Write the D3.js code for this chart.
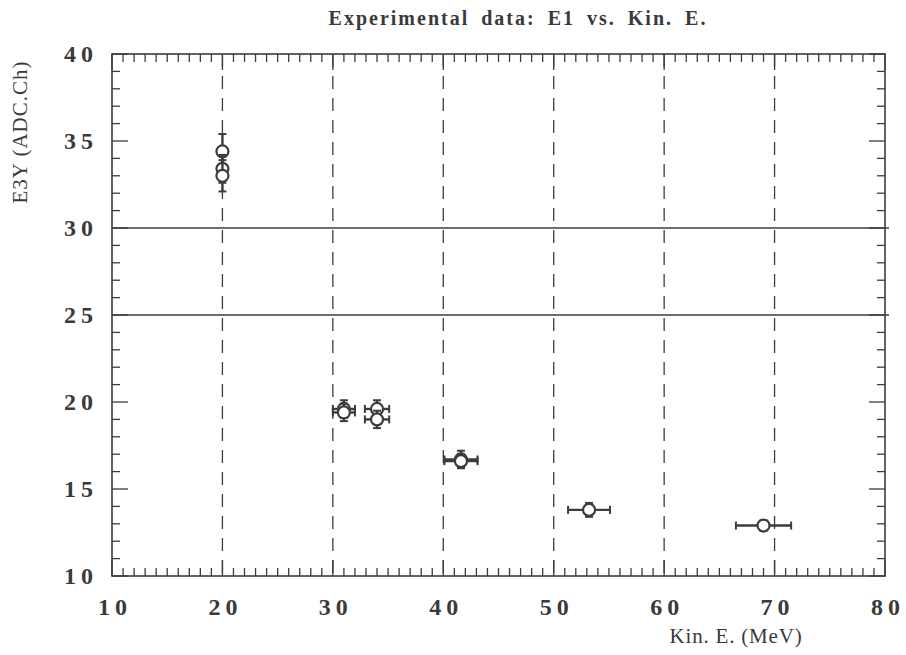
<!DOCTYPE html>
<html>
<head>
<meta charset="utf-8">
<script src="https://cdn.jsdelivr.net/npm/d3@7"></script>
<style>
  body { margin: 0; background: #fff; }
  text { font-family: "Liberation Serif", "DejaVu Serif", serif; fill: #3a3a3a; }
</style>
</head>
<body>
<svg id="chart" width="906" height="655"></svg>
<script>
// values
var kinE  = [20.0, 20.0, 20.0, 31.0, 31.0, 34.0, 34.0, 41.6, 41.6, 53.2, 69.0];
var e3y   = [34.4, 33.4, 33.0, 19.6, 19.4, 19.6, 19.0, 16.7, 16.6, 13.8, 12.9];
var xErr  = [0.4, 0.4, 0.4, 1.0, 1.0, 1.1, 1.1, 1.5, 1.5, 1.9, 2.5];
var yErr  = [1.0, 0.8, 0.9, 0.5, 0.5, 0.5, 0.5, 0.5, 0.4, 0.4, 0.3];

var xTicks = [10, 20, 30, 40, 50, 60, 70, 80];
var yTicks = [10, 15, 20, 25, 30, 35, 40];
var dashedX = [20, 30, 40, 50, 60, 70];
var solidY = [25, 30];

var ink = '#3c3c3c';
var margin = {top: 54, right: 21, bottom: 79, left: 112};
var width = 906 - margin.left - margin.right;
var height = 655 - margin.top - margin.bottom;

var svg = d3.select('#chart');
var g = svg.append('g')
    .attr('transform', 'translate(' + margin.left + ',' + margin.top + ')');

var x = d3.scaleLinear().domain([10, 80]).range([0, width]);
var y = d3.scaleLinear().domain([10, 40]).range([height, 0]);

// gridlines
g.selectAll('.vgrid')
  .data(dashedX)
  .enter()
  .append('line')
  .attr('x1', d => x(d)).attr('x2', d => x(d))
  .attr('y1', 0).attr('y2', height)
  .attr('stroke', ink)
  .attr('stroke-width', 1.3)
  .attr('stroke-dasharray', '13,9');

g.selectAll('.hgrid')
  .data(solidY)
  .enter()
  .append('line')
  .attr('x1', 0).attr('x2', width + 4)
  .attr('y1', d => y(d)).attr('y2', d => y(d))
  .attr('stroke', ink)
  .attr('stroke-width', 1.4);

// minor / major ticks on all four sides
var xMinor = d3.range(10, 81, 1);
var yMinor = d3.range(10, 41, 1);

function tickLen(v, step) { return (v % step === 0) ? 16 : 8; }

g.selectAll('.xb')
  .data(xMinor)
  .enter()
  .append('line')
  .attr('x1', d => x(d)).attr('x2', d => x(d))
  .attr('y1', height).attr('y2', d => height - tickLen(d, 10))
  .attr('stroke', ink).attr('stroke-width', 1.3);

g.selectAll('.xt')
  .data(xMinor)
  .enter()
  .append('line')
  .attr('x1', d => x(d)).attr('x2', d => x(d))
  .attr('y1', 0).attr('y2', d => tickLen(d, 10))
  .attr('stroke', ink).attr('stroke-width', 1.3);

g.selectAll('.yl')
  .data(yMinor)
  .enter()
  .append('line')
  .attr('x1', 0).attr('x2', d => tickLen(d, 5))
  .attr('y1', d => y(d)).attr('y2', d => y(d))
  .attr('stroke', ink).attr('stroke-width', 1.3);

g.selectAll('.yr')
  .data(yMinor)
  .enter()
  .append('line')
  .attr('x1', width).attr('x2', d => width - tickLen(d, 5))
  .attr('y1', d => y(d)).attr('y2', d => y(d))
  .attr('stroke', ink).attr('stroke-width', 1.3);

// frame
g.append('rect')
  .attr('x', 0).attr('y', 0)
  .attr('width', width).attr('height', height)
  .attr('fill', 'none')
  .attr('stroke', ink)
  .attr('stroke-width', 1.6);

// tick labels
g.selectAll('.xlab')
  .data(xTicks)
  .enter()
  .append('text')
  .attr('x', d => x(d) + 3)
  .attr('y', height + 39)
  .attr('text-anchor', 'middle')
  .attr('font-size', 24)
  .attr('font-weight', 'bold')
  .attr('letter-spacing', 5)
  .text(d => d);

g.selectAll('.ylab')
  .data(yTicks)
  .enter()
  .append('text')
  .attr('x', -14)
  .attr('y', d => y(d) + 8)
  .attr('text-anchor', 'end')
  .attr('font-size', 24)
  .attr('font-weight', 'bold')
  .attr('letter-spacing', 5)
  .text(d => d);

// titles
svg.append('text')
  .attr('x', 518)
  .attr('y', 25)
  .attr('text-anchor', 'middle')
  .attr('font-size', 20)
  .attr('font-weight', 'bold')
  .attr('letter-spacing', 2)
  .attr('word-spacing', 5)
  .text('Experimental data: E1 vs. Kin. E.');

svg.append('text')
  .attr('x', 736)
  .attr('y', 643)
  .attr('text-anchor', 'middle')
  .attr('font-size', 21)
  .attr('letter-spacing', 0.8)
  .text('Kin. E. (MeV)');

svg.append('text')
  .attr('transform', 'translate(27,132) rotate(-90)')
  .attr('text-anchor', 'middle')
  .attr('font-size', 21)
  .attr('letter-spacing', 1)
  .text('E3Y (ADC.Ch)');

// data points with error bars
var pts = kinE.map((k, i) => ({x: k, y: e3y[i], ex: xErr[i], ey: yErr[i]}));
var cap = 4;

var pg = g.selectAll('.pt')
  .data(pts)
  .enter()
  .append('g');

pg.append('line')
  .attr('x1', d => x(d.x - d.ex)).attr('x2', d => x(d.x + d.ex))
  .attr('y1', d => y(d.y)).attr('y2', d => y(d.y))
  .attr('stroke', ink).attr('stroke-width', 2.4);

pg.append('line')
  .attr('x1', d => x(d.x)).attr('x2', d => x(d.x))
  .attr('y1', d => y(d.y - d.ey)).attr('y2', d => y(d.y + d.ey))
  .attr('stroke', ink).attr('stroke-width', 2.4);

// caps
pg.append('line')
  .attr('x1', d => x(d.x - d.ex)).attr('x2', d => x(d.x - d.ex))
  .attr('y1', d => y(d.y) - cap).attr('y2', d => y(d.y) + cap)
  .attr('stroke', ink).attr('stroke-width', 2);
pg.append('line')
  .attr('x1', d => x(d.x + d.ex)).attr('x2', d => x(d.x + d.ex))
  .attr('y1', d => y(d.y) - cap).attr('y2', d => y(d.y) + cap)
  .attr('stroke', ink).attr('stroke-width', 2);
pg.append('line')
  .attr('x1', d => x(d.x) - cap).attr('x2', d => x(d.x) + cap)
  .attr('y1', d => y(d.y - d.ey)).attr('y2', d => y(d.y - d.ey))
  .attr('stroke', ink).attr('stroke-width', 2);
pg.append('line')
  .attr('x1', d => x(d.x) - cap).attr('x2', d => x(d.x) + cap)
  .attr('y1', d => y(d.y + d.ey)).attr('y2', d => y(d.y + d.ey))
  .attr('stroke', ink).attr('stroke-width', 2);

pg.append('circle')
  .attr('cx', d => x(d.x))
  .attr('cy', d => y(d.y))
  .attr('r', 6)
  .attr('fill', '#fff')
  .attr('stroke', ink)
  .attr('stroke-width', 2.2);
</script>
</body>
</html>
